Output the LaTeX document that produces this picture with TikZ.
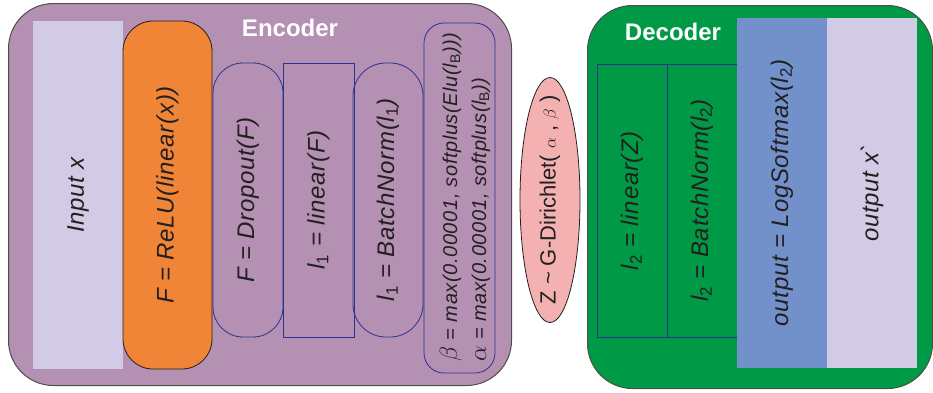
\documentclass[tikz,border=0pt]{standalone}
\usepackage{fontspec}
\setmainfont{Liberation Sans}
\usetikzlibrary{shapes.geometric}
\definecolor{encfill}{HTML}{B490B2}
\definecolor{decfill}{HTML}{009A46}
\definecolor{lav}{HTML}{D2CBE5}
\definecolor{orng}{HTML}{F08538}
\definecolor{pinkz}{HTML}{F4B1B1}
\definecolor{bluel}{HTML}{7290CA}
\definecolor{navy}{HTML}{2E3192}
\definecolor{frame}{HTML}{4D4D4D}
\definecolor{ink}{HTML}{231F20}
\tikzset{
  panel/.style={draw=frame, line width=1pt, rounded corners=45pt, inner sep=0pt, anchor=north west},
  layer/.style={rotate=90, inner sep=0pt, text=ink, font=\fontsize{24}{28}\selectfont\itshape\addfontfeatures{LetterSpace=3}},
  navybox/.style={layer, draw=navy, line width=0.8pt},
  title/.style={text=white, font=\fontsize{24}{28}\selectfont\bfseries, inner sep=0pt}
}
\newcommand{\subl}[1]{\textsubscript{\upshape #1}}
\begin{document}
\begin{tikzpicture}[x=1pt,y=-1pt]
\useasboundingbox (0,0) rectangle (933,392);
% Encoder panel
\node[panel, fill=encfill, minimum width=503pt, minimum height=382pt] (enc) at (8,3) {};
\node[title] (enct) at (290,28) {Encoder};
\node[layer, fill=lav, minimum width=348pt, minimum height=90pt] (inp) at (78,195) {Input x};
\node[layer, fill=orng, draw=ink, line width=0.8pt, rounded corners=30pt, minimum width=348pt, minimum height=89pt] (relu) at (167.5,195) {F = ReLU(linear(x))};
\node[navybox, rounded corners=30pt, minimum width=274pt, minimum height=70pt] (drop) at (248,200) {F = Dropout(F)};
\node[navybox, minimum width=274pt, minimum height=71pt] (lin1) at (318.5,200) {l\subl{1} = linear(F)};
\node[navybox, rounded corners=33pt, minimum width=274pt, minimum height=70pt] (bn1) at (388,200) {l\subl{1} = BatchNorm(l\subl{1})};
\node[navybox, rounded corners=20pt, minimum width=350pt, minimum height=71pt] (ab) at (459.5,198) {};
\node[layer, align=left, font=\fontsize{20}{29}\selectfont\itshape\addfontfeatures{LetterSpace=3}] (abt) at (465,197) {{\fontsize{27}{27}\selectfont$\beta$} = max(0.00001, softplus(Elu(l\subl{B})))\\{\fontsize{27}{27}\selectfont$\alpha$} = max(0.00001, softplus(l\subl{B}))};
% sampling
\node[ellipse, rotate=90, draw=ink, line width=0.8pt, fill=pinkz, minimum width=245pt, minimum height=60pt, inner sep=0pt] (z) at (550,200) {};
\node[rotate=90, inner sep=0pt, text=ink, font=\fontsize{22}{26}\selectfont] (zt) at (z.center) {Z \textasciitilde{} G-Dirichlet( {\fontsize{16}{16}\selectfont$\alpha$} , {\fontsize{16}{16}\selectfont$\beta$} )};
% Decoder panel
\node[panel, fill=decfill, minimum width=345pt, minimum height=383pt] (dec) at (587,5) {};
\node[title] (dect) at (673,32) {Decoder};
\node[navybox, minimum width=273pt, minimum height=70pt] (lin2) at (632,200.5) {l\subl{2} = linear(Z)};
\node[navybox, minimum width=273pt, minimum height=70pt] (bn2) at (702,200.5) {l\subl{2} = BatchNorm(l\subl{2})};
\node[layer, fill=bluel, minimum width=350pt, minimum height=90pt] (lsm) at (782,193) {output = LogSoftmax(l\subl{2})};
\node[layer, fill=lav, minimum width=350pt, minimum height=90pt] (out) at (872,193) {output x\textasciigrave};
\end{tikzpicture}
\end{document}
